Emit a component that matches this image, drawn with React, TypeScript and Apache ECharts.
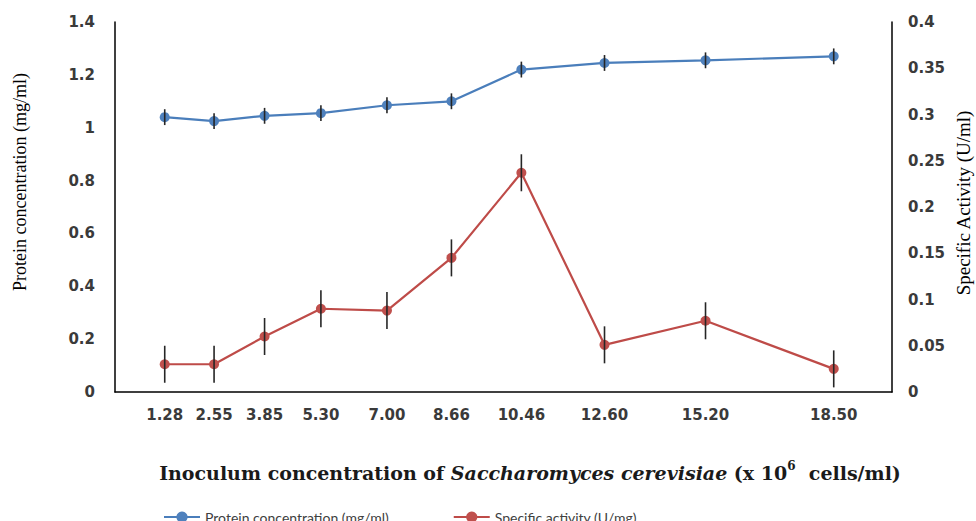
import React, { useEffect, useRef } from "react";
import * as echarts from "echarts";

// Inoculum concentration (x 10^6 cells/ml)
const inoculum = [1.28, 2.55, 3.85, 5.3, 7.0, 8.66, 10.46, 12.6, 15.2, 18.5];
const inoculumLabels = ["1.28", "2.55", "3.85", "5.30", "7.00", "8.66", "10.46", "12.60", "15.20", "18.50"];

// Protein concentration (mg/ml) with error
const protein = [1.04, 1.025, 1.045, 1.055, 1.085, 1.1, 1.22, 1.245, 1.255, 1.27];
const proteinErr = [0.03, 0.03, 0.03, 0.03, 0.03, 0.03, 0.03, 0.03, 0.03, 0.03];

// Specific activity (U/mg) with error
const activity = [0.03, 0.03, 0.06, 0.09, 0.088, 0.145, 0.237, 0.051, 0.077, 0.025];
const activityErr = [0.02, 0.02, 0.02, 0.02, 0.02, 0.02, 0.02, 0.02, 0.02, 0.02];

const PROTEIN_NAME = "Protein concentration (mg/ml)";
const ACTIVITY_NAME = "Specific activity (U/mg)";

const tickFont = {
  fontFamily: "DejaVu Sans",
  fontSize: 15,
  fontWeight: "bold" as const,
  color: "#3a3a3a",
};

const titleFont = {
  fontFamily: "DejaVu Serif",
  fontWeight: "bold" as const,
  fontSize: 19,
  fill: "#1a1a1a",
  lineHeight: 26,
};

function errorBars(values: number[], errs: number[]) {
  return inoculum.map((x, i) => [x, values[i] - errs[i], values[i] + errs[i]]);
}

function renderErrorBar(params: any, api: any) {
  const x = api.value(0);
  const p1 = api.coord([x, api.value(1)]);
  const p2 = api.coord([x, api.value(2)]);
  return {
    type: "line",
    shape: { x1: p1[0], y1: p1[1], x2: p2[0], y2: p2[1] },
    style: { stroke: "#262626", lineWidth: 1.6 },
  };
}

export default function App() {
  const ref = useRef<HTMLDivElement>(null);

  useEffect(() => {
    if (!ref.current) return;
    const chart = echarts.init(ref.current, null, { renderer: "svg" });
    chart.setOption({
      animation: false,
      backgroundColor: "#ffffff",
      grid: { left: 115, right: 84, top: 22, bottom: 129, containLabel: false },
      legend: {
        data: [PROTEIN_NAME, ACTIVITY_NAME],
        left: 158,
        top: 505,
        itemWidth: 36,
        itemHeight: 14,
        itemGap: 64,
        textStyle: { fontFamily: "Lato", fontSize: 14, color: "#404040" },
      },
      xAxis: {
        type: "value",
        min: 0,
        max: 20,
        axisLine: { show: true, lineStyle: { color: "#000", width: 1.5 } },
        axisTick: { show: false },
        splitLine: { show: false },
        axisLabel: {
          ...tickFont,
          margin: 15,
          customValues: inoculum,
          formatter: (v: number) => {
            const i = inoculum.indexOf(v);
            return i >= 0 ? inoculumLabels[i] : "";
          },
        },
      },
      yAxis: [
        {
          type: "value",
          min: 0,
          max: 1.4,
          interval: 0.2,
          axisLine: { show: true, lineStyle: { color: "#000", width: 1.5 } },
          axisTick: { show: false },
          splitLine: { show: false },
          axisLabel: { ...tickFont, margin: 20 },
        },
        {
          type: "value",
          min: 0,
          max: 0.4,
          interval: 0.05,
          position: "right",
          axisLine: { show: true, lineStyle: { color: "#000", width: 1.5 } },
          axisTick: { show: false },
          splitLine: { show: false },
          axisLabel: { ...tickFont, margin: 16 },
        },
      ],
      graphic: [
        {
          type: "text",
          x: 20,
          y: 182,
          rotation: Math.PI / 2,
          style: {
            text: "Protein concentration (mg/ml)",
            fontFamily: "Liberation Serif",
            fontSize: 18,
            fill: "#000",
            align: "center",
            verticalAlign: "middle",
          },
        },
        {
          type: "text",
          x: 963,
          y: 203,
          rotation: Math.PI / 2,
          style: {
            text: "Specific Activity (U/ml)",
            fontFamily: "Liberation Serif",
            fontSize: 19,
            fill: "#000",
            align: "center",
            verticalAlign: "middle",
          },
        },
        {
          type: "text",
          x: 530,
          y: 473,
          style: {
            text: "{n|Inoculum concentration of }{i|Saccharomyces cerevisiae}{n| (x 10}{s|6}{n|  cells/ml)}",
            align: "center",
            verticalAlign: "middle",
            rich: {
              n: { ...titleFont },
              i: { ...titleFont, fontStyle: "italic" },
              s: { ...titleFont, fontSize: 12, verticalAlign: "top" },
            },
          },
        },
      ],
      series: [
        {
          name: PROTEIN_NAME,
          type: "line",
          yAxisIndex: 0,
          data: inoculum.map((x, i) => [x, protein[i]]),
          symbol: "circle",
          symbolSize: 10,
          itemStyle: { color: "#4F81BD" },
          lineStyle: { color: "#4A7EBB", width: 2.2 },
          z: 3,
        },
        {
          name: ACTIVITY_NAME,
          type: "line",
          yAxisIndex: 1,
          data: inoculum.map((x, i) => [x, activity[i]]),
          symbol: "circle",
          symbolSize: 10,
          itemStyle: { color: "#C0504D" },
          lineStyle: { color: "#BE4B48", width: 2.2 },
          z: 3,
        },
        {
          type: "custom",
          yAxisIndex: 0,
          data: errorBars(protein, proteinErr),
          encode: { x: 0, y: [1, 2] },
          renderItem: renderErrorBar,
          z: 5,
          silent: true,
        },
        {
          type: "custom",
          yAxisIndex: 1,
          data: errorBars(activity, activityErr),
          encode: { x: 0, y: [1, 2] },
          renderItem: renderErrorBar,
          z: 5,
          silent: true,
        },
      ],
    });
    return () => chart.dispose();
  }, []);

  return (
    <div
      ref={ref}
      style={{ position: "fixed", left: 0, top: 0, width: 976, height: 521 }}
    />
  );
}
